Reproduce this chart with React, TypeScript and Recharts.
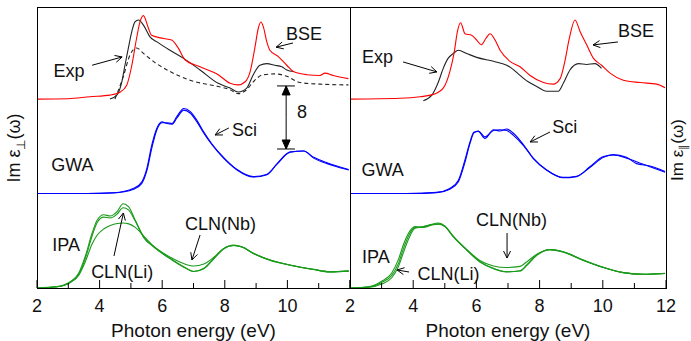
import React from "react"
import { LineChart, Line, XAxis, YAxis, ReferenceLine, ReferenceDot } from "recharts"

const FONT = "'Liberation Sans', Arial, Helvetica, sans-serif"

// offsets used in the figure to stack the three spectra groups
const OFFSET_BSE = 24
const OFFSET_GWA = 12
const OFFSET_IPA = 0

const xTicks = [2, 3, 4, 5, 6, 7, 8, 9, 10, 11, 12]

// ---- left panel: Im eps_perp ----
const perpBseE = [2.0, 3.0, 3.69, 4.33, 4.65, 4.87, 5.03, 5.18, 5.29, 5.4, 5.56, 5.66, 6.04, 6.3, 6.51, 6.73, 7.21, 7.79, 8.17, 8.43, 8.65, 8.81, 8.96, 9.07, 9.15, 9.23, 9.34, 9.44, 9.71, 9.98, 10.19, 10.62, 11.04, 11.2, 11.47, 11.95]
const perpBseV = [0, 0.05, 0.3, 0.5, 0.87, 1.8, 4.3, 7.7, 9.8, 10.6, 9.0, 8.1, 7.7, 7.5, 6.5, 5.0, 4.1, 3.1, 2.0, 1.8, 2.2, 3.5, 6.5, 9.0, 9.8, 9.2, 7.3, 6.2, 5.4, 4.3, 3.5, 3.1, 3.0, 3.3, 3.0, 2.6]

const perpExpE = [4.33, 4.55, 4.71, 4.81, 4.92, 5.03, 5.13, 5.24, 5.4, 5.61, 5.82, 6.25, 6.67, 7.21, 7.79, 8.17, 8.43, 8.7, 8.91, 9.12, 9.34, 9.6, 9.82, 9.98, 10.2]
const perpExpV = [0, 0.5, 2.2, 4.3, 6.5, 8.6, 9.8, 10.05, 9.4, 7.9, 7.3, 6.2, 5.2, 3.7, 2.0, 1.4, 0.9, 1.4, 3.1, 4.3, 4.5, 4.3, 4.1, 3.7, 3.5]

const perpExp2E = [4.49, 4.76, 4.97, 5.18, 5.4, 5.82, 6.25, 6.89, 7.79, 8.17, 8.43, 8.7, 8.91, 9.23, 9.6, 9.98, 10.4, 11.04, 11.95]
const perpExp2V = [0, 2.9, 5.6, 6.5, 5.8, 4.5, 3.5, 2.4, 1.6, 1.2, 0.7, 1.2, 2.2, 3.1, 3.2, 2.9, 2.1, 1.9, 1.8]

const perpGwaE = [2.0, 3.6, 4.45, 5.09, 5.35, 5.51, 5.67, 5.83, 5.99, 6.15, 6.31, 6.47, 6.69, 6.9, 7.11, 7.33, 7.59, 7.96, 8.39, 8.92, 9.35, 9.67, 10.09, 10.52, 10.84, 11.27, 11.58, 11.96]
const perpGwaV = [0, 0, 0.1, 0.67, 1.5, 3.2, 6.2, 8.3, 9.1, 8.9, 8.8, 9.6, 10.6, 10.2, 9.1, 7.66, 6.2, 4.5, 3.0, 2.1, 2.4, 3.8, 5.3, 5.4, 4.5, 3.8, 3.4, 3.0]
const perpSciV = [0, 0, 0.08, 0.55, 1.3, 2.9, 5.8, 8.1, 9.0, 9.0, 8.9, 9.8, 10.8, 10.4, 9.3, 7.8, 6.3, 4.6, 3.05, 2.15, 2.45, 3.75, 5.25, 5.4, 4.6, 3.9, 3.5, 3.05]

const perpIpaE = [2.0, 2.64, 3.06, 3.33, 3.54, 3.76, 3.92, 4.13, 4.34, 4.56, 4.75, 4.93, 5.14, 5.41, 5.73, 6.26, 6.69, 7.01, 7.33, 7.65, 7.96, 8.28, 8.55, 8.92, 9.45, 10.09, 10.84, 11.37, 11.96]
const perpIpaV = [0, 0.17, 0.8, 1.86, 4.0, 6.95, 8.6, 9.3, 9.15, 9.7, 10.7, 10.3, 8.6, 6.5, 5.25, 3.77, 2.7, 2.1, 2.5, 3.77, 5.0, 5.46, 5.25, 4.4, 3.56, 2.92, 2.37, 2.07, 2.2]
const perpLiV = [0, 0.15, 0.7, 1.7, 3.7, 6.6, 8.3, 9.0, 8.9, 9.4, 10.2, 9.9, 8.5, 6.4, 5.2, 3.7, 2.65, 2.1, 2.45, 3.7, 4.95, 5.4, 5.2, 4.35, 3.5, 2.9, 2.35, 2.05, 2.15]
const perpNbV = [0, 0.15, 0.7, 1.6, 3.3, 5.6, 6.7, 7.5, 7.95, 8.2, 8.25, 8.15, 7.7, 6.6, 5.3, 3.9, 3.1, 2.8, 3.05, 3.9, 5.0, 5.4, 5.2, 4.4, 3.55, 2.9, 2.35, 2.05, 2.15]

// ---- right panel: Im eps_par ----
const parBseE = [2.0, 3.58, 4.22, 4.64, 4.95, 5.16, 5.3, 5.4, 5.5, 5.64, 5.85, 6.01, 6.15, 6.3, 6.43, 6.59, 6.75, 7.06, 7.38, 7.7, 8.12, 8.43, 8.65, 8.8, 8.94, 9.12, 9.28, 9.49, 9.7, 9.96, 10.23, 10.65, 11.18, 11.71, 11.97]
const parBseV = [0, 0.1, 0.3, 0.6, 1.4, 3.5, 6.0, 8.6, 9.7, 8.3, 8.1, 7.5, 6.9, 7.7, 8.3, 7.5, 6.2, 4.8, 4.1, 3.0, 2.1, 1.9, 2.6, 4.8, 7.7, 10.05, 8.6, 6.9, 5.2, 4.3, 3.3, 2.4, 2.1, 1.9, 1.45]

const parExpE = [4.32, 4.59, 4.8, 4.95, 5.11, 5.27, 5.43, 5.69, 6.01, 6.54, 6.96, 7.64, 7.91, 8.22, 8.59, 8.75, 8.96, 9.23, 9.49, 9.75, 9.96]
const parExpV = [-0.2, 0.5, 2.2, 3.9, 5.2, 5.8, 6.2, 5.8, 5.3, 4.8, 4.3, 2.2, 1.6, 1.0, 1.0, 2.0, 3.7, 4.5, 4.4, 4.5, 3.9]

const parGwaE = [2.0, 3.79, 4.74, 5.16, 5.43, 5.64, 5.8, 5.92, 6.06, 6.27, 6.54, 6.75, 6.96, 7.17, 7.49, 7.8, 8.22, 8.75, 9.17, 9.59, 10.02, 10.33, 10.75, 11.07, 11.49, 11.97]
const parGwaV = [0, 0, 0.15, 0.65, 1.7, 4.3, 6.6, 7.8, 7.9, 7.0, 8.1, 7.95, 8.2, 7.66, 6.2, 4.5, 3.0, 2.0, 2.15, 3.4, 4.7, 4.9, 4.5, 4.05, 3.4, 2.7]
const parSciV = [0, 0, 0.12, 0.55, 1.5, 4.0, 6.4, 7.7, 7.95, 7.2, 8.0, 8.1, 8.0, 7.4, 6.1, 4.45, 3.0, 2.05, 2.2, 3.3, 4.6, 4.95, 4.6, 3.8, 3.5, 2.8]

const parIpaE = [2.0, 2.63, 3.0, 3.32, 3.53, 3.69, 3.85, 4.06, 4.32, 4.59, 4.8, 5.0, 5.27, 5.69, 6.11, 6.54, 6.95, 7.38, 7.59, 7.91, 8.33, 8.75, 9.38, 10.02, 10.65, 11.28, 11.97]
const parIpaV = [0, 0.2, 0.85, 1.9, 3.6, 5.5, 6.95, 7.8, 7.7, 8.0, 8.1, 7.8, 6.5, 4.83, 3.35, 2.5, 2.07, 2.2, 2.92, 4.2, 4.9, 4.6, 3.56, 2.63, 1.95, 1.74, 1.86]
const parLiV = [0, 0.1, 0.5, 1.3, 2.7, 4.5, 6.2, 7.6, 7.75, 8.1, 8.25, 7.9, 6.55, 4.85, 3.3, 2.45, 2.05, 2.15, 2.85, 4.15, 4.85, 4.55, 3.5, 2.6, 1.95, 1.75, 1.85]
const parNbV = [0, 0.15, 0.7, 1.6, 3.1, 5.0, 6.6, 7.7, 7.8, 8.05, 8.15, 7.85, 6.55, 4.9, 3.5, 2.8, 2.6, 2.75, 3.3, 4.3, 4.9, 4.6, 3.55, 2.6, 1.95, 1.75, 1.85]

const RED = "#ff0000"
const BLACK = "#222"
const BLUE = "#0000ff"
const GREEN = "#1a9a1a"

const pts = (e: number[], v: number[], off: number) => e.map((x, i) => ({ e: x, v: v[i] + off }))

type Series = { e: number[]; v: number[]; off: number; color: string; dash?: string }
type Note = { x: number; y: number; text: string }
type Arrow = { from: [number, number]; to: [number, number]; head: "open" | "filled" | "none" }

const perpSeries: Series[] = [
  { e: perpExp2E, v: perpExp2V, off: OFFSET_BSE, color: BLACK, dash: "4 3" },
  { e: perpExpE, v: perpExpV, off: OFFSET_BSE, color: BLACK },
  { e: perpBseE, v: perpBseV, off: OFFSET_BSE, color: RED },
  { e: perpGwaE, v: perpGwaV, off: OFFSET_GWA, color: BLUE },
  { e: perpGwaE, v: perpSciV, off: OFFSET_GWA, color: BLUE },
  { e: perpIpaE, v: perpNbV, off: OFFSET_IPA, color: GREEN },
  { e: perpIpaE, v: perpLiV, off: OFFSET_IPA, color: GREEN },
  { e: perpIpaE, v: perpIpaV, off: OFFSET_IPA, color: GREEN },
]

const parSeries: Series[] = [
  { e: parExpE, v: parExpV, off: OFFSET_BSE, color: BLACK },
  { e: parBseE, v: parBseV, off: OFFSET_BSE, color: RED },
  { e: parGwaE, v: parGwaV, off: OFFSET_GWA, color: BLUE },
  { e: parGwaE, v: parSciV, off: OFFSET_GWA, color: BLUE },
  { e: parIpaE, v: parNbV, off: OFFSET_IPA, color: GREEN },
  { e: parIpaE, v: parLiV, off: OFFSET_IPA, color: GREEN },
  { e: parIpaE, v: parIpaV, off: OFFSET_IPA, color: GREEN },
]

const perpNotes: Note[] = [
  { x: 10.53, y: 32.3, text: "BSE" },
  { x: 3.02, y: 27.6, text: "Exp" },
  { x: 10.47, y: 22.4, text: "8" },
  { x: 8.63, y: 20.1, text: "Sci" },
  { x: 3.13, y: 15.6, text: "GWA" },
  { x: 2.93, y: 5.5, text: "IPA" },
  { x: 4.72, y: 1.97, text: "CLN(Li)" },
  { x: 7.86, y: 8.13, text: "CLN(Nb)" },
]

const perpArrows: Arrow[] = [
  { from: [10.18, 31.13], to: [9.64, 30.6], head: "open" },
  { from: [3.76, 28.3], to: [4.72, 29.35], head: "open" },
  { from: [8.13, 20.33], to: [7.69, 19.44], head: "open" },
  { from: [4.46, 4.07], to: [4.76, 9.53], head: "open" },
  { from: [7.21, 6.73], to: [6.95, 3.56], head: "open" },
  { from: [9.96, 21.7], to: [9.96, 25.67], head: "filled" },
  { from: [9.96, 21.7], to: [9.96, 17.66], head: "filled" },
  { from: [9.67, 25.67], to: [10.24, 25.67], head: "none" },
  { from: [9.67, 17.66], to: [10.24, 17.66], head: "none" },
]

const parNotes: Note[] = [
  { x: 11.05, y: 32.6, text: "BSE" },
  { x: 2.87, y: 29.3, text: "Exp" },
  { x: 8.8, y: 20.4, text: "Sci" },
  { x: 3.03, y: 15.0, text: "GWA" },
  { x: 2.82, y: 3.88, text: "IPA" },
  { x: 5.12, y: 1.72, text: "CLN(Li)" },
  { x: 7.11, y: 8.64, text: "CLN(Nb)" },
]

const parArrows: Arrow[] = [
  { from: [10.48, 31.26], to: [9.69, 30.88], head: "open" },
  { from: [3.68, 28.72], to: [4.75, 27.45], head: "open" },
  { from: [8.33, 19.82], to: [7.7, 18.55], head: "open" },
  { from: [3.87, 2.03], to: [3.49, 2.29], head: "open" },
  { from: [6.97, 6.99], to: [6.97, 3.81], head: "open" },
]

const arrowShape = (head: Arrow["head"]) => (p: any) => {
  const { x1, y1, x2, y2 } = p
  const dx = x2 - x1
  const dy = y2 - y1
  const len = Math.hypot(dx, dy) || 1
  const ux = dx / len
  const uy = dy / len
  const hl = head === "filled" ? 9 : 7
  const hw = head === "filled" ? 4 : 3.5
  const bx = x2 - ux * hl
  const by = y2 - uy * hl
  const pts = `${bx - uy * hw},${by + ux * hw} ${x2},${y2} ${bx + uy * hw},${by - ux * hw}`
  return (
    <g>
      <line x1={x1} y1={y1} x2={x2} y2={y2} stroke="#000" strokeWidth={1} />
      {head === "open" && <polyline points={pts} fill="none" stroke="#000" strokeWidth={1} />}
      {head === "filled" && <polygon points={pts} fill="#000" stroke="#000" />}
    </g>
  )
}

const noteShape = (text: string) => (p: any) => (
  <text x={p.cx} y={p.cy} textAnchor="middle" dominantBaseline="central" fontSize={18} fontFamily={FONT} fill="#111">
    {text}
  </text>
)

const makeTick = (lastLabel: boolean) => (p: any) => {
  const v = Number(p.payload.value)
  const major = v % 2 === 0
  return (
    <g>
      <line x1={p.x} x2={p.x} y1={p.y} y2={p.y - (major ? 8 : 5)} stroke="#000" strokeWidth={1} />
      {major && (lastLabel || v < 12) ? (
        <text x={p.x} y={p.y + 24} textAnchor="middle" fontSize={18} fontFamily={FONT} fill="#111">
          {v}
        </text>
      ) : null}
    </g>
  )
}

function Panel({ series, notes, arrows, width, margin, lastLabel }: { series: Series[]; notes: Note[]; arrows: Arrow[]; width: number; margin: any; lastLabel: boolean }) {
  return (
    <LineChart width={width} height={341} margin={margin}>
      <XAxis
        type="number"
        dataKey="e"
        domain={[2, 12]}
        ticks={xTicks}
        interval={0}
        allowDataOverflow
        height={53}
        tickSize={0}
        tickMargin={0}
        axisLine={false}
        tickLine={false}
        tick={makeTick(lastLabel)}
        label={{ value: "Photon energy (eV)", position: "insideBottom", offset: 4, fontSize: 19, fill: "#111", fontFamily: FONT }}
      />
      <YAxis type="number" hide domain={[0, 35.7]} allowDataOverflow />
      {series.map((s, i) => (
        <Line
          key={i}
          data={pts(s.e, s.v, s.off)}
          dataKey="v"
          type="monotone"
          stroke={s.color}
          strokeWidth={1.1}
          strokeDasharray={s.dash}
          dot={false}
          activeDot={false}
          isAnimationActive={false}
        />
      ))}
      {arrows.map((a, i) => (
        <ReferenceLine key={"a" + i} segment={[{ x: a.from[0], y: a.from[1] }, { x: a.to[0], y: a.to[1] }]} shape={arrowShape(a.head)} />
      ))}
      {notes.map((n, i) => (
        <ReferenceDot key={"n" + i} x={n.x} y={n.y} r={0} shape={noteShape(n.text)} />
      ))}
    </LineChart>
  )
}

export default function App() {
  return (
    <div style={{ position: "absolute", left: 0, top: 0, width: 691, height: 341, background: "#fff", fontFamily: FONT }}>
      <div style={{ position: "absolute", left: 0, top: 0 }}>
        <Panel series={perpSeries} notes={perpNotes} arrows={perpArrows} width={351} margin={{ top: 7, right: 1, bottom: 0, left: 37 }} lastLabel={false} />
      </div>
      <div style={{ position: "absolute", left: 338, top: 0 }}>
        <Panel series={parSeries} notes={parNotes} arrows={parArrows} width={353} margin={{ top: 7, right: 25, bottom: 0, left: 12 }} lastLabel={true} />
      </div>
      <div style={{ position: "absolute", left: 37, top: 7, width: 314, height: 282, border: "1px solid #000", boxSizing: "border-box", pointerEvents: "none" }} />
      <div style={{ position: "absolute", left: 350, top: 7, width: 317, height: 282, border: "1px solid #000", boxSizing: "border-box", pointerEvents: "none" }} />
      <div style={{ position: "absolute", left: 16, top: 148, transform: "translate(-50%, -50%) rotate(-90deg)", whiteSpace: "nowrap", fontSize: 18, color: "#111" }}>
        Im ε<sub style={{ fontSize: 12 }}>⊥</sub>(ω)
      </div>
      <div style={{ position: "absolute", left: 679, top: 150, transform: "translate(-50%, -50%) rotate(-90deg)", whiteSpace: "nowrap", fontSize: 17, color: "#111" }}>
        Im ε<sub style={{ fontSize: 11 }}>∥</sub>(ω)
      </div>
    </div>
  )
}
